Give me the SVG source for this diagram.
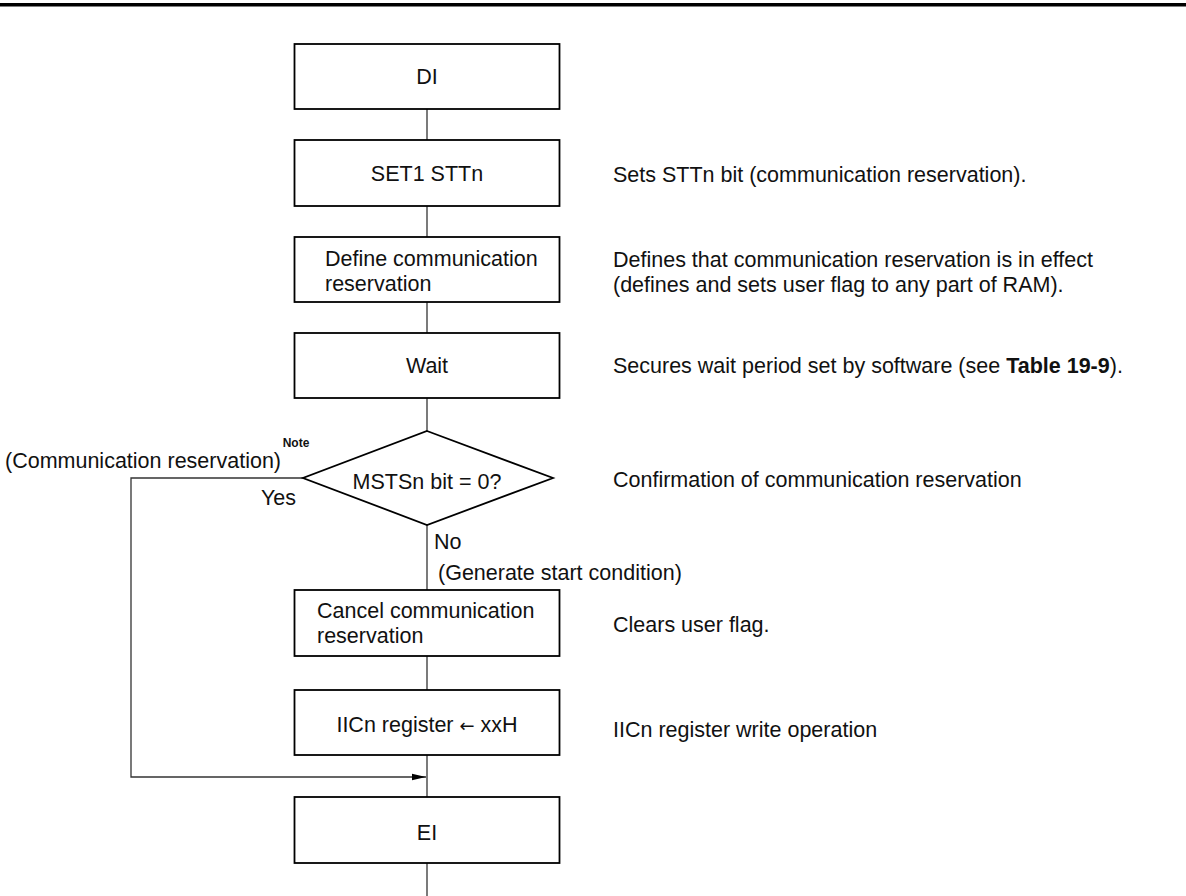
<svg xmlns="http://www.w3.org/2000/svg" width="1186" height="896" viewBox="0 0 1186 896">
<defs>
<style>
.t{font-family:"Liberation Sans",Arial,sans-serif;font-size:21.5px;fill:#111}
.c{text-anchor:middle}
.box{fill:#fff;stroke:#000;stroke-width:1.8}
.ln{fill:none;stroke:#333;stroke-width:1.3}
.note{font-family:"Liberation Sans",Arial,sans-serif;font-size:12px;font-weight:bold;fill:#111}
.arr{font-family:"DejaVu Sans",sans-serif;font-size:18px}
</style>
<marker id="ah" markerWidth="14" markerHeight="8" refX="14" refY="4" orient="auto" markerUnits="userSpaceOnUse">
<path d="M0,0.8 L14,4 L0,7.2 Z" fill="#000"/>
</marker>
</defs>
<rect width="1186" height="896" fill="#fff"/>
<rect x="0" y="3" width="1186" height="3.5" fill="#000"/>

<g id="connectors">
<line class="ln" x1="427" y1="109" x2="427" y2="140"/>
<line class="ln" x1="427" y1="206" x2="427" y2="237"/>
<line class="ln" x1="427" y1="302" x2="427" y2="333"/>
<line class="ln" x1="427" y1="398" x2="427" y2="431"/>
<line class="ln" x1="427" y1="525" x2="427" y2="590"/>
<line class="ln" x1="427" y1="656" x2="427" y2="690"/>
<line class="ln" x1="427" y1="755" x2="427" y2="797"/>
<line class="ln" x1="427" y1="863" x2="427" y2="896"/>
<polyline class="ln" points="303,478 131,478 131,777 426,777" marker-end="url(#ah)"/>
</g>

<g id="n-di">
<rect class="box" x="294.5" y="44" width="265" height="65"/>
<text class="t c" x="427" y="84">DI</text>
</g>
<g id="n-set1">
<rect class="box" x="294.5" y="140" width="265" height="66"/>
<text class="t c" x="427" y="181">SET1 STTn</text>
</g>
<g id="n-define">
<rect class="box" x="294.5" y="237" width="265" height="65"/>
<text class="t" x="325" y="266">Define communication</text>
<text class="t" x="325" y="291">reservation</text>
</g>
<g id="n-wait">
<rect class="box" x="294.5" y="333" width="265" height="65"/>
<text class="t c" x="427" y="373">Wait</text>
</g>
<g id="n-msts">
<polygon class="box" points="427,431 553,478 427,525 303,478"/>
<text class="t c" x="427" y="489">MSTSn bit = 0?</text>
</g>
<g id="n-cancel">
<rect class="box" x="294.5" y="590" width="265" height="66"/>
<text class="t" x="317" y="618">Cancel communication</text>
<text class="t" x="317" y="643">reservation</text>
</g>
<g id="n-iicn">
<rect class="box" x="294.5" y="690" width="265" height="65"/>
<text class="t c" x="427" y="732">IICn register <tspan class="arr">←</tspan> xxH</text>
</g>
<g id="n-ei">
<rect class="box" x="294.5" y="797" width="265" height="66"/>
<text class="t c" x="427" y="840">EI</text>
</g>

<g id="labels">
<text class="note" x="296" y="447" text-anchor="middle">Note</text>
<text class="t" x="281" y="468" text-anchor="end">(Communication reservation)</text>
<text class="t" x="296" y="505" text-anchor="end">Yes</text>
<text class="t" x="434" y="549">No</text>
<text class="t" x="438" y="580">(Generate start condition)</text>
</g>

<g id="notes">
<text class="t" x="613" y="182">Sets STTn bit (communication reservation).</text>
<text class="t" x="613" y="267">Defines that communication reservation is in effect</text>
<text class="t" x="613" y="292">(defines and sets user flag to any part of RAM).</text>
<text class="t" x="613" y="373">Secures wait period set by software (see <tspan font-weight="bold">Table 19-9</tspan>).</text>
<text class="t" x="613" y="487">Confirmation of communication reservation</text>
<text class="t" x="613" y="632">Clears user flag.</text>
<text class="t" x="613" y="737">IICn register write operation</text>
</g>
</svg>
